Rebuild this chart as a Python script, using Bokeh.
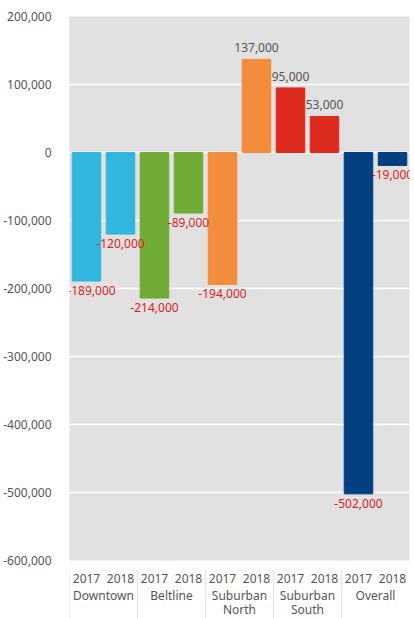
from bokeh.plotting import figure
from bokeh.layouts import column
from bokeh.models import (ColumnDataSource, FactorRange, NumeralTickFormatter, LabelSet,
                          FixedTicker, Range1d)
from bokeh.core.properties import value
from bokeh.embed import file_html
from bokeh.resources import INLINE

groups = ["Downtown", "Beltline", "Suburban\nNorth", "Suburban\nSouth", "Overall"]
years = ["2017", "2018"]
values_2017 = [-189000, -214000, -194000, 95000, -502000]
values_2018 = [-120000, -89000, 137000, 53000, -19000]
group_colors = ["#31b6de", "#70aa37", "#f38c3c", "#dc2a1f", "#003f80"]
y_ticks = [200000, 100000, 0, -100000, -200000, -300000, -400000, -500000, -600000]

Y_MIN, Y_MAX = -600000, 200000
TEXT = "#555555"
FONT = "Noto Sans"

x, vals, cols = [], [], []
for g, v17, v18, c in zip(groups, values_2017, values_2018, group_colors):
    for yr, v in zip(years, [v17, v18]):
        x.append((g, yr))
        vals.append(v)
        cols.append(c)

labels = [f"{v:,}" for v in vals]
label_colors = ["#e0201b" if v < 0 else TEXT for v in vals]
# style: label offsets (pixels)
x_offsets = [5 if i == 0 else 0 for i in range(len(vals))]
y_offsets = [-14 if v < 0 else 7 for v in vals]

src = ColumnDataSource(dict(x=x, v=vals, c=cols, t=labels, tc=label_colors,
                            xo=x_offsets, yo=y_offsets))

xr = FactorRange(*x, range_padding=0, group_padding=0, factor_padding=0)

# ---- main chart ----
MAIN_H = 569
p = figure(x_range=xr, y_range=Range1d(Y_MIN, Y_MAX),
           width=414, height=MAIN_H, output_backend="svg", toolbar_location=None,
           min_border_left=64, min_border_right=5, min_border_top=16,
           min_border_bottom=9)
p.background_fill_color = "#e1e1e1"
p.border_fill_color = "white"
p.outline_line_color = None

p.vbar(x="x", top="v", bottom=0, width=0.84, color="c", source=src)

p.add_layout(LabelSet(x="x", y="v", text="t", text_color="tc", x_offset="xo", y_offset="yo",
                      text_align="center", text_baseline="alphabetic", source=src,
                      text_font_size="12px", text_font=value(FONT)))

p.ygrid.grid_line_color = "white"
p.ygrid.grid_line_width = 1.5
p.ygrid.ticker = FixedTicker(ticks=y_ticks)
p.xgrid.grid_line_color = None

p.yaxis.ticker = FixedTicker(ticks=y_ticks)
p.yaxis.formatter = NumeralTickFormatter(format="0,0")
p.yaxis.axis_line_color = None
p.yaxis.major_tick_line_color = None
p.yaxis.minor_tick_line_color = None
p.yaxis.major_label_text_color = TEXT
p.yaxis.major_label_text_font = FONT
p.yaxis.major_label_text_font_size = "12px"
p.yaxis.major_label_standoff = 12
p.xaxis.visible = False

# ---- category axis strip ----
STRIP_H = 618 - MAIN_H
p2 = figure(x_range=xr, y_range=Range1d(STRIP_H, 0),
            width=414, height=STRIP_H, output_backend="svg", toolbar_location=None,
            min_border_left=64, min_border_right=5, min_border_top=0, min_border_bottom=0)
p2.background_fill_color = "white"
p2.border_fill_color = "white"
p2.outline_line_color = None
p2.axis.visible = False
p2.grid.visible = False

sep_src = ColumnDataSource(dict(x=[(g, years[0], -0.5) for g in groups],
                                y0=[0] * len(groups), y1=[STRIP_H] * len(groups)))
p2.segment(x0="x", x1="x", y0="y0", y1="y1", source=sep_src,
           line_color="#e3e3e3", line_width=1)

year_src = ColumnDataSource(dict(x=x, t=[f[1] for f in x], y=[9] * len(x)))
p2.text(x="x", y="y", text="t", source=year_src, text_align="center",
        text_baseline="alphabetic", text_color=TEXT, text_font_size="12px",
        text_font=value(FONT))

grp_src = ColumnDataSource(dict(x=groups, t=groups, y=[17] * len(groups)))
p2.text(x="x", y="y", text="t", source=grp_src, text_align="center",
        text_baseline="top", text_line_height=0.85, text_color=TEXT,
        text_font_size="12px", text_font=value(FONT))

layout = column(p, p2, spacing=0)
open("out.html", "w").write(file_html(layout, INLINE))
